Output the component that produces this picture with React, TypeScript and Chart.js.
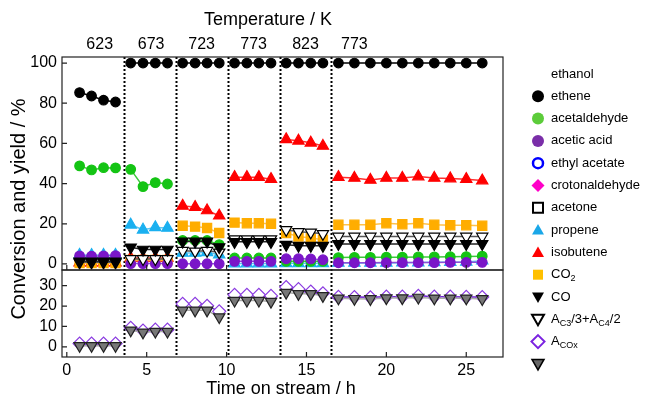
import React, { useEffect, useRef } from 'react';
import { Chart, registerables } from 'chart.js';

Chart.register(...registerables);

const FONT = "'Liberation Sans', Arial, Helvetica, sans-serif";

// Time on stream (h) at each temperature step
const hours623 = [0.8, 1.55, 2.3, 3.05];
const hours673 = [4.0, 4.77, 5.54, 6.3];
const hours723 = [7.25, 8.03, 8.78, 9.54];
const hours773a = [10.5, 11.27, 12.02, 12.78];
const hours823 = [13.73, 14.5, 15.27, 16.03];
const hours773b = [17, 18, 19, 20, 21, 22, 23, 24, 25, 26];
const sections = [hours623, hours673, hours723, hours773a, hours823, hours773b];

const stepBoundaries = [3.57, 6.84, 10.09, 13.36, 16.55];
const temperatureLabels = ['623', '673', '723', '773', '823', '773'];
const temperatureLabelHours = [2.06, 5.28, 8.44, 11.69, 14.94, 18.0];

const xTicks = [0, 5, 10, 15, 20, 25];
const yTopTicks = [0, 20, 40, 60, 80, 100];
const yBottomTicks = [0, 10, 20, 30];

// Top panel series (values per point, sections concatenated)
const ethanol = [85.3, 83.6, 81.5, 80.6, 100, 100, 100, 100, 100, 100, 100, 100, 100, 100, 100, 100, 100, 100, 100, 100, 100, 100, 100, 100, 100, 100, 100, 100, 100, 100];
const ethene = [48.8, 46.8, 47.9, 47.8, 47.1, 38.5, 40.5, 39.8, 11.7, 11.7, 11.7, 9.6, 3.0, 3.0, 3.0, 3.0, 1.3, 1.3, 1.3, 1.3, 3.2, 3.3, 3.3, 3.4, 3.4, 3.5, 3.5, 3.6, 3.7, 3.9];
const acetaldehyde = [4.0, 3.9, 4.0, 4.2, 0.2, 0.2, 0.2, 0.2, 0.1, 0.1, 0.1, 0.1, 1.3, 1.3, 1.3, 1.3, 2.6, 2.6, 2.5, 2.1, 0.6, 0.6, 0.6, 0.7, 0.7, 0.7, 0.7, 0.8, 0.8, 0.8];
const propene = [4.5, 4.4, 4.5, 4.5, 19.5, 17.0, 18.2, 17.9, 5.5, 5.5, 5.8, 4.6, 0.2, 0.2, 0.2, 0.2, 0.3, 0.3, 0.3, 0.3, 0.5, 0.5, 0.5, 0.5, 0.6, 0.7, 0.8, 0.9, 1.0, 1.6];
const isobutene = [0.6, 0.6, 0.6, 0.6, 3.0, 3.0, 3.0, 3.0, 28.9, 28.3, 26.6, 24.0, 43.2, 43.2, 43.2, 42.2, 62.0, 61.3, 60.3, 58.7, 43.2, 42.8, 41.8, 42.8, 42.8, 43.5, 42.8, 42.5, 42.2, 41.5];
const co2 = [0.5, 0.5, 0.5, 0.5, 2.0, 2.0, 2.0, 2.0, 19.0, 18.6, 17.9, 15.4, 20.6, 20.3, 20.3, 20.0, 15.4, 13.7, 12.9, 12.1, 19.5, 19.5, 19.5, 20.3, 19.8, 20.3, 19.5, 19.3, 19.3, 19.0];
const co = [1.3, 1.3, 1.3, 1.3, 8.3, 7.2, 7.2, 7.2, 11.2, 11.2, 11.2, 8.4, 11.0, 11.0, 11.0, 11.0, 9.6, 9.1, 9.1, 9.1, 10.0, 10.0, 10.0, 10.0, 10.0, 10.0, 10.0, 10.0, 10.0, 10.0];
const aC3C4 = [0.8, 0.8, 0.8, 0.8, 2.5, 2.5, 2.5, 2.5, 6.6, 6.3, 6.6, 5.8, 12.4, 12.4, 12.4, 12.4, 17.0, 16.0, 15.7, 15.0, 13.7, 13.7, 13.7, 13.7, 13.7, 13.7, 13.7, 13.7, 13.7, 13.7];

// Bottom panel series
const aCOx = [1.6, 1.6, 1.6, 1.6, 9.3, 8.0, 8.4, 8.4, 21.1, 21.1, 20.1, 17.4, 25.5, 25.5, 25.5, 25.0, 29.3, 28.3, 27.1, 26.3, 24.5, 24.4, 24.3, 24.6, 24.6, 25.0, 24.6, 24.6, 24.5, 24.4];
const aC3C4Bottom = [0.5, 0.5, 0.5, 0.5, 8.1, 7.1, 7.5, 7.5, 17.9, 17.9, 17.9, 14.6, 22.7, 22.7, 22.7, 22.2, 26.6, 26.0, 26.0, 25.0, 23.8, 23.6, 23.5, 23.9, 23.9, 24.2, 23.8, 23.8, 23.8, 23.5];

const legendLabels = ['ethanol', 'ethene', 'acetaldehyde', 'acetic acid', 'ethyl acetate', 'crotonaldehyde', 'acetone', 'propene', 'isobutene', 'CO_{2}', 'CO', 'A_{C3}/3+A_{C4}/2', 'A_{COx}', ''];

type Marker = { shape: string; fill: string | null; stroke?: string; lw?: number } | null;
const legendMarkers: Marker[] = [
  null,
  { shape: 'circle', fill: '#000000' },
  { shape: 'circle', fill: '#5ccc3a' },
  { shape: 'circle', fill: '#7a2ea8' },
  { shape: 'circle', fill: null, stroke: '#0000ff', lw: 2.5 },
  { shape: 'diamond', fill: '#ff00c8' },
  { shape: 'square', fill: null, stroke: '#000000', lw: 2 },
  { shape: 'triangle', fill: '#1aa7e8' },
  { shape: 'triangle', fill: '#ff0000' },
  { shape: 'square', fill: '#ffc000' },
  { shape: 'triangleDown', fill: '#000000' },
  { shape: 'triangleDown', fill: null, stroke: '#000000', lw: 2 },
  { shape: 'diamond', fill: null, stroke: '#7a22e0', lw: 2 },
  { shape: 'triangleDown', fill: '#666666', stroke: '#000000', lw: 1.5 },
];

function toPoints(values: number[]) {
  const pts: { x: number; y: number | null }[] = [];
  let k = 0;
  sections.forEach((sec, si) => {
    if (si > 0) pts.push({ x: stepBoundaries[si - 1], y: null });
    sec.forEach((t) => {
      pts.push({ x: t, y: values[k++] });
    });
  });
  return pts;
}

function series(label: string, values: number[], axis: string, style: any, order: number) {
  return {
    label,
    data: toPoints(values),
    yAxisID: axis,
    order,
    borderWidth: 1.5,
    tension: 0,
    spanGaps: false,
    pointBorderWidth: 1.2,
    ...style,
  };
}

function drawShape(ctx: CanvasRenderingContext2D, m: Marker, cx: number, cy: number) {
  if (!m) return;
  ctx.save();
  ctx.beginPath();
  const r = 6;
  if (m.shape === 'circle') {
    ctx.arc(cx, cy, m.fill ? 6 : 5, 0, Math.PI * 2);
  } else if (m.shape === 'square') {
    const s = 5;
    ctx.rect(cx - s, cy - s, 2 * s, 2 * s);
  } else if (m.shape === 'diamond') {
    const d = 6.5;
    ctx.moveTo(cx, cy - d);
    ctx.lineTo(cx + d, cy);
    ctx.lineTo(cx, cy + d);
    ctx.lineTo(cx - d, cy);
    ctx.closePath();
  } else if (m.shape === 'triangle') {
    ctx.moveTo(cx, cy - r);
    ctx.lineTo(cx + r, cy + 4.5);
    ctx.lineTo(cx - r, cy + 4.5);
    ctx.closePath();
  } else if (m.shape === 'triangleDown') {
    ctx.moveTo(cx - r, cy - 4.5);
    ctx.lineTo(cx + r, cy - 4.5);
    ctx.lineTo(cx, cy + 6);
    ctx.closePath();
  }
  if (m.fill) {
    ctx.fillStyle = m.fill;
    ctx.fill();
  }
  if (m.stroke) {
    ctx.strokeStyle = m.stroke;
    ctx.lineWidth = m.lw || 1.5;
    ctx.stroke();
  }
  ctx.restore();
}

function drawRichText(ctx: CanvasRenderingContext2D, text: string, x: number, y: number, size: number) {
  const parts: { t: string; sub: boolean }[] = [];
  const re = /_\{([^}]*)\}/g;
  let last = 0;
  let m: RegExpExecArray | null;
  while ((m = re.exec(text))) {
    if (m.index > last) parts.push({ t: text.slice(last, m.index), sub: false });
    parts.push({ t: m[1], sub: true });
    last = m.index + m[0].length;
  }
  if (last < text.length) parts.push({ t: text.slice(last), sub: false });
  let cx = x;
  parts.forEach((p) => {
    ctx.font = `${p.sub ? Math.round(size * 0.7) : size}px ${FONT}`;
    ctx.fillText(p.t, cx, p.sub ? y + size * 0.3 : y);
    cx += ctx.measureText(p.t).width;
  });
}

const decorPlugin = {
  id: 'decor',
  beforeDatasetsDraw(chart: any) {
    const { ctx, chartArea, scales } = chart;
    const x = scales.x;
    ctx.save();
    ctx.strokeStyle = '#000';
    ctx.lineWidth = 2;
    ctx.setLineDash([2, 2]);
    stepBoundaries.forEach((b) => {
      const px = Math.round(x.getPixelForValue(b)) + 0.5;
      ctx.beginPath();
      ctx.moveTo(px, chartArea.top);
      ctx.lineTo(px, chartArea.bottom);
      ctx.stroke();
    });
    ctx.restore();
  },
  afterDraw(chart: any) {
    const { ctx, chartArea, scales } = chart;
    const x = scales.x;
    const y = scales.y;
    const y2 = scales.y2;
    ctx.save();
    ctx.strokeStyle = '#222';
    ctx.lineWidth = 1.2;
    const L = chartArea.left;
    const W = chartArea.right - chartArea.left;
    ctx.strokeRect(L, y.top, W, y.bottom - y.top);
    ctx.strokeRect(L, y2.top, W, y2.bottom - y2.top);
    // inward ticks
    ctx.beginPath();
    yTopTicks.forEach((v) => {
      const py = y.getPixelForValue(v);
      ctx.moveTo(L, py);
      ctx.lineTo(L + 5, py);
    });
    yBottomTicks.forEach((v) => {
      const py = y2.getPixelForValue(v);
      ctx.moveTo(L, py);
      ctx.lineTo(L + 5, py);
    });
    xTicks.forEach((v) => {
      const px = x.getPixelForValue(v);
      ctx.moveTo(px, y.bottom);
      ctx.lineTo(px, y.bottom - 5);
      ctx.moveTo(px, y2.bottom);
      ctx.lineTo(px, y2.bottom - 5);
    });
    ctx.stroke();

    // texts
    ctx.fillStyle = '#000';
    ctx.textBaseline = 'middle';
    ctx.textAlign = 'center';
    ctx.font = `16px ${FONT}`;
    temperatureLabels.forEach((t, i) => {
      ctx.fillText(t, x.getPixelForValue(temperatureLabelHours[i]), 45);
    });
    ctx.font = `18px ${FONT}`;
    ctx.fillText('Temperature / K', 268, 20);
    ctx.fillText('Time on stream / h', 281, 389);
    ctx.save();
    ctx.translate(19, 209);
    ctx.rotate(-Math.PI / 2);
    ctx.font = `20px ${FONT}`;
    ctx.fillText('Conversion and yield / %', 0, 0);
    ctx.restore();

    // legend
    ctx.textAlign = 'left';
    legendLabels.forEach((lab, i) => {
      const cy = 74 + i * 22.3;
      drawShape(ctx, legendMarkers[i], 538, cy);
      ctx.fillStyle = '#000';
      ctx.textBaseline = 'middle';
      drawRichText(ctx, lab, 551, cy, 13);
    });
    ctx.restore();
  },
};

export default function App() {
  const ref = useRef<HTMLCanvasElement | null>(null);
  useEffect(() => {
    if (!ref.current) return;
    const datasets = [
      series('ethanol', ethanol, 'y', { borderColor: '#000', pointBackgroundColor: '#000', pointBorderColor: '#000', pointStyle: 'circle', pointRadius: 4.8 }, 0),
      series('CO', co, 'y', { borderColor: '#222', pointBackgroundColor: '#000', pointBorderColor: '#000', pointStyle: 'triangle', pointRotation: 180, pointRadius: 6.5 }, 1),
      series('A_C3/3+A_C4/2', aC3C4, 'y', { borderColor: '#555', pointBackgroundColor: '#fff', pointBorderColor: '#000', pointStyle: 'triangle', pointRotation: 180, pointRadius: 6.5 }, 2),
      series('acetaldehyde', acetaldehyde, 'y', { borderColor: '#8c4fd6', pointBackgroundColor: '#7a16c8', pointBorderColor: '#7a16c8', pointStyle: 'circle', pointRadius: 4.8 }, 3),
      series('ethene', ethene, 'y', { borderColor: '#3cc83c', pointBackgroundColor: '#14c414', pointBorderColor: '#14c414', pointStyle: 'circle', pointRadius: 4.8 }, 4),
      series('CO2', co2, 'y', { borderColor: '#ffc24a', pointBackgroundColor: '#ffad00', pointBorderColor: '#ffad00', pointStyle: 'rect', pointRadius: 6.5 }, 5),
      series('isobutene', isobutene, 'y', { borderColor: '#ff3030', pointBackgroundColor: '#ff0000', pointBorderColor: '#ff0000', pointStyle: 'triangle', pointRadius: 6.5 }, 6),
      series('propene', propene, 'y', { borderColor: '#5cc6f2', pointBackgroundColor: '#1ab0f0', pointBorderColor: '#1ab0f0', pointStyle: 'triangle', pointRadius: 6.5 }, 7),
      series('A_C3/3+A_C4/2 (bottom)', aC3C4Bottom, 'y2', { borderColor: '#aaa', pointBackgroundColor: '#777', pointBorderColor: '#222', pointStyle: 'triangle', pointRotation: 180, pointRadius: 6.5 }, 8),
      series('A_COx', aCOx, 'y2', { borderColor: '#6a28c8', pointBackgroundColor: '#fff', pointBorderColor: '#8a3ae0', pointStyle: 'rectRot', pointRadius: 6.5 }, 9),
    ];
    const tickFont = { family: FONT, size: 16 };
    const chart = new Chart(ref.current, {
      type: 'line',
      data: { datasets },
      plugins: [decorPlugin],
      options: {
        animation: false,
        responsive: false,
        events: [],
        layout: { padding: { top: 57, right: 147, left: 0, bottom: 0 } },
        plugins: { legend: { display: false }, tooltip: { enabled: false }, title: { display: false } },
        scales: {
          x: {
            type: 'linear',
            min: -0.3,
            max: 27.3,
            position: 'bottom',
            grid: { display: false, drawTicks: false },
            border: { display: false },
            ticks: { font: tickFont, color: '#000', padding: 4, maxRotation: 0, autoSkip: false },
            afterBuildTicks: (s: any) => { s.ticks = xTicks.map((v) => ({ value: v })); },
            afterFit: (s: any) => { s.height = 41; },
          },
          y: {
            type: 'linear',
            min: -3,
            max: 103,
            position: 'left',
            stack: 'panels',
            stackWeight: 213,
            weight: 2,
            grid: { display: false, drawTicks: false },
            border: { display: false },
            ticks: { font: tickFont, color: '#000', padding: 5, autoSkip: false },
            afterBuildTicks: (s: any) => { s.ticks = yTopTicks.map((v) => ({ value: v })); },
            afterFit: (s: any) => { s.width = 62; },
          },
          y2: {
            type: 'linear',
            min: -5,
            max: 37.7,
            position: 'left',
            stack: 'panels',
            stackWeight: 87,
            weight: 1,
            grid: { display: false, drawTicks: false },
            border: { display: false },
            ticks: { font: tickFont, color: '#000', padding: 5, autoSkip: false },
            afterBuildTicks: (s: any) => { s.ticks = yBottomTicks.map((v) => ({ value: v })); },
            afterFit: (s: any) => { s.width = 62; },
          },
        },
      } as any,
    });
    return () => chart.destroy();
  }, []);
  return (
    <div style={{ position: 'absolute', left: 0, top: 0, width: 650, height: 398, background: '#fff' }}>
      <canvas ref={ref} width={650} height={398} style={{ display: 'block' }} />
    </div>
  );
}
